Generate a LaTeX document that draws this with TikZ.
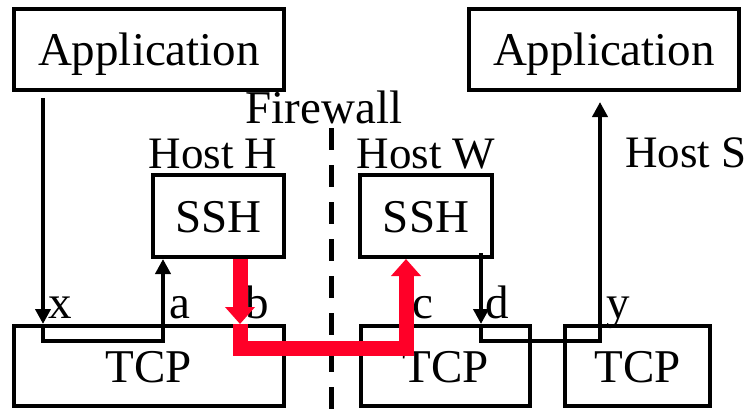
\documentclass[tikz,border=0pt]{standalone}
\usepackage{fontspec}
\setmainfont{Liberation Serif}
\usetikzlibrary{arrows.meta}
\definecolor{sshred}{RGB}{255,0,40}
\begin{document}
\begin{tikzpicture}[x=1pt, y=-1pt]
    \tikzset{block/.style={%
      draw,%
      rectangle,%
      line width=4pt,%
      inner sep=0pt,%
      text height=32pt,%
      text depth=0pt,%
      font=\fontsize{47}{56}\selectfont}%
    };
\tikzset{txt/.style={anchor=base, inner sep=0pt, font=\fontsize{47}{56}\selectfont}};
\tikzset{hostlbl/.style={txt, font=\fontsize{45}{54}\selectfont}};
\tikzset{arr/.style={line width=4pt, -{Triangle[width=15pt,length=15pt]}}};
\tikzset{redarr/.style={draw=sshred, line width=15pt, -{Triangle[width=29pt,length=17pt]}}};

\useasboundingbox (0,0) rectangle (751,409);

%applications
\node[block, minimum width=270pt, minimum height=81pt] (appH) at (149, 49.5) {Application};
\node[block, minimum width=270pt, minimum height=81pt] (appS) at (604, 49.5) {Application};

%ssh boxes
\node[block, minimum width=131pt, minimum height=82pt] (sshH) at (218.5, 216) {SSH};
\node[block, minimum width=132pt, minimum height=82pt] (sshW) at (426, 216) {SSH};

%tcp boxes
\node[block, minimum width=270pt, minimum height=80pt] (tcpH) at (149, 366) {TCP};
\node[block, minimum width=169pt, minimum height=80pt] (tcpW) at (445.5, 366) {TCP};
\node[block, minimum width=145pt, minimum height=80pt] (tcpS) at (637.5, 366) {TCP};

%host names
\node[txt] (firewall) at (324, 124) {Firewall};
\node[hostlbl] (hostH) at (213, 168) {Host H};
\node[hostlbl] (hostW) at (426, 168) {Host W};
\node[hostlbl] (hostS) at (686, 167) {Host S};

%firewall line
\coordinate (fwtop) at (331, 128);
\coordinate (fwbot) at (331, 409);
\draw[line width=5pt, dash pattern=on 22pt off 15pt] (fwtop) -- (fwbot);

%port labels
\node[txt] (labx) at (60, 318) {x};
\node[txt] (laba) at (180, 318) {a};
\node[txt] (labb) at (257, 318) {b};
\node[txt] (labc) at (423, 318) {c};
\node[txt] (labd) at (497, 318) {d};
\node[txt] (laby) at (618, 318) {y};

%corners inside the tcp boxes
\coordinate (xin) at (43, 341);
\coordinate (ain) at (163, 341);
\coordinate (din) at (481, 341);
\coordinate (yin) at (600, 341);
\coordinate (bin) at (240, 348);
\coordinate (cin) at (406, 348);

%plain connection
\draw[arr, shorten <=6pt] (appH.south -| xin) -- (tcpH.north -| xin);
\draw[arr] (tcpH.north -| xin) -- (xin) -- (ain) -- (sshH.south -| ain);
\draw[arr, shorten <=-6pt] (sshW.south -| din) -- (tcpW.north -| din);
\draw[arr, shorten >=10pt] (tcpW.north -| din) -- (din) -- (yin) -- (appS.south -| yin);

%tunnel
\draw[redarr] (sshH.south -| bin) -- (tcpH.north -| bin);
\draw[redarr] (tcpH.north -| bin) -- (bin) -- (cin) -- (sshW.south -| cin);

\end{tikzpicture}
\end{document}
